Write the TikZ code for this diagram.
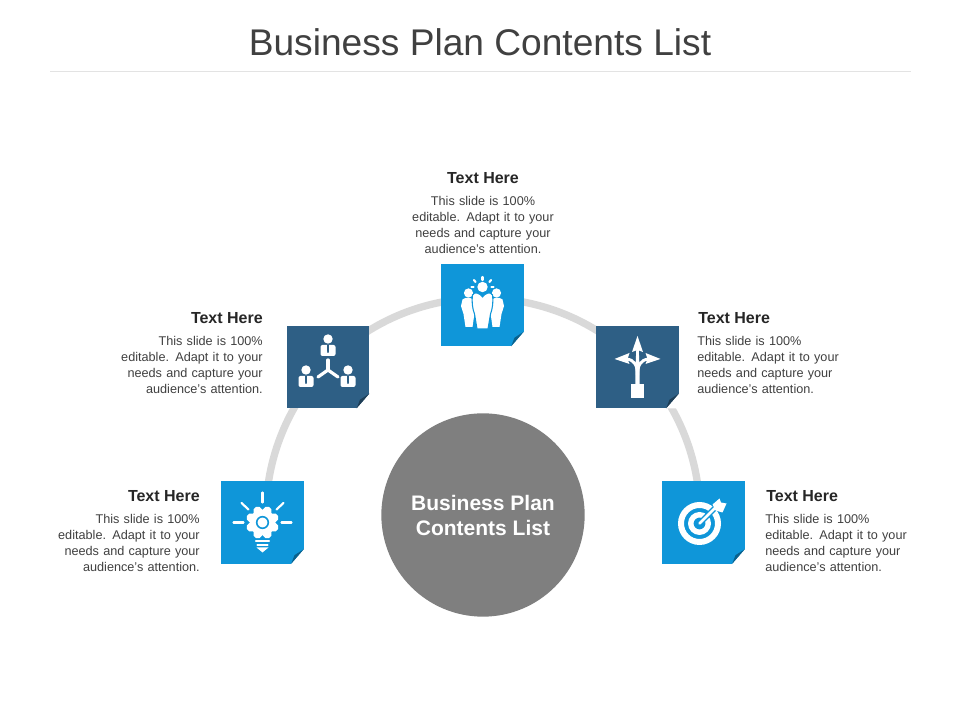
\documentclass[tikz,border=0pt]{standalone}
\usepackage{fontspec}
\setmainfont{Liberation Sans}
\definecolor{cardblue}{HTML}{0F96D9}
\definecolor{cardnavy}{HTML}{2E5F85}
\definecolor{hubgray}{HTML}{7F7F7F}
\definecolor{ringgray}{HTML}{D9D9D9}
\definecolor{rulegray}{HTML}{E3E3E3}
\definecolor{inkgray}{HTML}{404040}
\definecolor{headgray}{HTML}{262626}
\tikzset{
  card/.style={rectangle,minimum size=62pt,inner sep=0pt,outer sep=0pt},
  head/.style={font=\bfseries\fontsize{12}{14}\selectfont,text=headgray,inner sep=0pt},
  body/.style={font=\fontsize{9.5}{12}\selectfont,text=inkgray,inner sep=0pt,text width=120pt},
  icon/.style={fill=white,draw=none},
  stroke/.style={draw=white,line width=2.4pt,line cap=round},
  ray/.style={draw=white,line width=1.6pt,line cap=round}
}
% cut away the corner of a card and lay the fold on it
\newcommand{\foldcorner}[2]{
  \fill[white] ([yshift=11pt]#1.south east) -- (#1.south east) -- ([xshift=-9.5pt]#1.south east) -- cycle;
  \fill[#2!65!black] ([yshift=11pt]#1.south east) -- ([xshift=-9.5pt]#1.south east) -- ([xshift=-7pt,yshift=6.5pt]#1.south east) -- cycle;
}
\begin{document}
\begin{tikzpicture}[x=0.75pt,y=0.75pt]
  \useasboundingbox (0,0) rectangle (960,720);

  % Title
  \node[inner sep=0pt,text=inkgray,font=\fontsize{27.85}{32}\selectfont] (title) at (480,678) {Business Plan Contents List};
  \coordinate (ruleleft) at (50,648);
  \coordinate (ruleright) at (911,648);
  \draw[rulegray,line width=0.75pt] (ruleleft) -- (ruleright);

  % Ring behind the cards
  \coordinate (ringstart) at (268,235);
  \draw[ringgray,line width=5.5pt] (ringstart) arc[start angle=172,end angle=8,radius=217];

  % Centre
  \node[circle,fill=hubgray,minimum size=152.5pt,inner sep=0pt,align=center,text=white,font=\bfseries\fontsize{15.75}{18.75}\selectfont] (hub) at (483,205) {Business Plan\\Contents List};

  % Cards
  \node[card,fill=cardblue] (bulbcard) at (262.5,197.5) {};
  \node[card,fill=cardnavy] (teamcard) at (328,353) {};
  \node[card,fill=cardblue] (peoplecard) at (482.5,415) {};
  \node[card,fill=cardnavy] (arrowcard) at (637.5,353) {};
  \node[card,fill=cardblue] (targetcard) at (703.5,197.5) {};
  \foldcorner{bulbcard}{cardblue}
  \foldcorner{teamcard}{cardnavy}
  \foldcorner{peoplecard}{cardblue}
  \foldcorner{arrowcard}{cardnavy}
  \foldcorner{targetcard}{cardblue}

  % Texts
  \node[head,anchor=base] (peoplehead) at (483,536) {Text Here};
  \node[body,align=center,anchor=north] (peopletext) at (483,524) {This slide is 100\%\\editable. Adapt it to your\\needs and capture your\\audience's attention.};
  \node[head,anchor=base east] (teamhead) at (263,396) {Text Here};
  \node[body,align=right,anchor=north east] (teamtext) at (263,384) {This slide is 100\%\\editable. Adapt it to your\\needs and capture your\\audience's attention.};
  \node[head,anchor=base west] (arrowhead) at (698,396) {Text Here};
  \node[body,align=left,anchor=north west] (arrowtext) at (697,384) {This slide is 100\%\\editable. Adapt it to your\\needs and capture your\\audience's attention.};
  \node[head,anchor=base east] (bulbhead) at (200,218) {Text Here};
  \node[body,align=right,anchor=north east] (bulbtext) at (200,206) {This slide is 100\%\\editable. Adapt it to your\\needs and capture your\\audience's attention.};
  \node[head,anchor=base west] (targethead) at (766,218) {Text Here};
  \node[body,align=left,anchor=north west] (targettext) at (765,206) {This slide is 100\%\\editable. Adapt it to your\\needs and capture your\\audience's attention.};

  % People icon
  \begin{scope}[shift={(peoplecard.center)}]
    \fill[icon] (-14,12) circle (4.6);
    \fill[icon] (14,12) circle (4.6);
    \fill[icon] (-20,5.5) .. controls (-17,8) and (-12,8) .. (-9,5) -- (-8,-8) -- (-10,-22) -- (-17,-22) -- (-19,-9) -- (-21.5,-1) -- cycle;
    \fill[icon] (20,5.5) .. controls (17,8) and (12,8) .. (9,5) -- (8,-8) -- (10,-22) -- (17,-22) -- (19,-9) -- (21.5,-1) -- cycle;
    \filldraw[fill=white,draw=cardblue,line width=0.8pt] (0,8) .. controls (-3,12) and (-8,14) .. (-10,10) .. controls (-11,4) and (-10,-4) .. (-8,-9) -- (-5.5,-24) -- (5.5,-24) -- (8,-9) .. controls (10,-4) and (11,4) .. (10,10) .. controls (8,14) and (3,12) .. (0,8) -- cycle;
    \fill[icon] (0,18) circle (5.2);
    \draw[ray] (0,25) -- (0,28);
    \draw[ray] (-7,23) -- (-8.5,25);
    \draw[ray] (7,23) -- (8.5,25);
    \draw[ray] (-9,18) -- (-11,18);
    \draw[ray] (9,18) -- (11,18);
  \end{scope}

  % Team icon
  \begin{scope}[shift={(teamcard.center)}]
    \foreach \px/\py in {0/28,-22/-3,20/-3}{
      \fill[icon] (\px,\py) circle (4.7);
      \fill[icon,rounded corners=1.5pt] (\px-7.5,\py-6) rectangle (\px+7.5,\py-17);
      \fill[cardnavy] (\px-1,\py-6) -- (\px+1,\py-6) -- (\px+0.7,\py-14) -- (\px-0.7,\py-14) -- cycle;
    }
    \draw[stroke] (0,-3) -- (0,7);
    \draw[stroke] (0,-3) -- (-10,-10);
    \draw[stroke] (0,-3) -- (10,-10);
  \end{scope}

  % Arrows icon
  \begin{scope}[shift={(arrowcard.center)}]
    \fill[icon] (-6.5,-31) rectangle (6.5,-17);
    \fill[icon] (-2.2,-17) -- (-2.2,-4) -- (-1.2,18) -- (1.2,18) -- (2.2,-4) -- (2.2,-17) -- cycle;
    \fill[icon] (0,31) -- (-5.5,15) -- (0,17) -- (5.5,15) -- cycle;
    \draw[stroke,line cap=butt,line width=2.2pt] (0,-9) .. controls (0,2) and (-3,7) .. (-11,8);
    \draw[stroke,line cap=butt,line width=2.2pt] (0,-9) .. controls (0,2) and (3,7) .. (11,8);
    \fill[icon] (-23,8) -- (-8,14) -- (-10,8) -- (-8,3) -- cycle;
    \fill[icon] (23,8) -- (8,14) -- (10,8) -- (8,3) -- cycle;
  \end{scope}

  % Bulb icon
  \begin{scope}[shift={(bulbcard.center)}]
    \fill[icon] (0,0) circle (13);
    \foreach \ang in {0,45,...,315}{
      \fill[icon,rotate=\ang+22.5] (12.5,0) circle (4.5);
    }
    \draw[cardblue,line width=1.2pt] (0,0) circle (5.8);
    \draw[ray] (0,20) -- (0,30);
    \draw[ray] (-19,0) -- (-29,0);
    \draw[ray] (19,0) -- (29,0);
    \draw[ray] (-14,13) -- (-21,19.5);
    \draw[ray] (14,13) -- (21,19.5);
    \draw[ray] (-6.5,-18.5) -- (6.5,-18.5);
    \draw[ray] (-5,-22.5) -- (5,-22.5);
    \fill[icon] (-6,-25) -- (6,-25) -- (0,-30) -- cycle;
  \end{scope}

  % Target icon
  \begin{scope}[shift={(targetcard.center)}]
    \fill[icon,even odd rule] (-4,-1) circle (21.5) (-4,-1) circle (15.5);
    \fill[icon,even odd rule] (-4,-1) circle (11.5) (-4,-1) circle (6);
    \draw[cardblue,line width=4pt] (-4,-1) -- (14,17);
    \draw[stroke,line cap=round,line width=2pt] (-4,-1) -- (14,17);
    \fill[icon] (9,18) -- (16,24) -- (17.5,20) -- (23,19) -- (19,10) -- (12,12) -- cycle;
  \end{scope}
\end{tikzpicture}
\end{document}
